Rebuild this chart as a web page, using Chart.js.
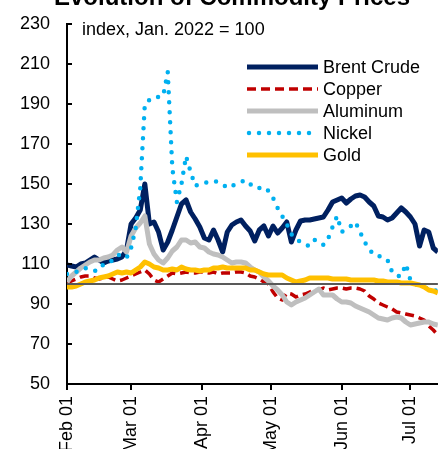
<!DOCTYPE html>
<html>
<head>
<meta charset="utf-8">
<script src="https://cdn.jsdelivr.net/npm/chart.js@4.4.0/dist/chart.umd.min.js"></script>
<style>
  html, body { margin: 0; padding: 0; background: #fff; overflow: hidden; }
  #wrap { width: 438px; height: 449px; }
</style>
</head>
<body>
<div id="wrap"><canvas id="canvas" width="438" height="449"></canvas></div>
<script>
/* Calendar days after Feb 01, 2022 */
const days = [
  0, 2, 4, 6, 8, 10, 12, 14, 16, 18,
  20, 22, 24, 26, 28, 30, 32, 34, 36, 38,
  40, 42, 44, 46, 48, 50, 52, 54, 56, 58,
  60, 62, 64, 66, 68, 70, 72, 74, 76, 78,
  80, 82, 84, 86, 88, 90, 92, 94, 96, 98,
  100, 102, 104, 106, 108, 110, 112, 114, 116, 118,
  120, 122, 124, 126, 128, 130, 132, 134, 136, 138,
  140, 142, 144, 146, 148, 150, 152, 154, 156, 158,
  160, 162
];

/* Month ticks on the x axis */
const monthDays = [0, 28, 59, 89, 120, 150];
const monthLabels = ["Feb 01", "Mar 01", "Apr 01", "May 01", "Jun 01", "Jul 01"];
const yTicks = [50, 70, 90, 110, 130, 150, 170, 190, 210, 230];
const baseLevel = 100;

/* Series (index, Jan. 2022 = 100) */
const brentCrude = [
  109.5, 109, 108.5, 110, 110.5, 112, 113.5, 112, 110.5, 111.5,
  112, 112.5, 113.5, 117, 130, 133, 137, 150, 130, 131,
  126, 117, 121, 127, 133.5, 140, 142, 136, 132.5, 128.5,
  123, 122, 127, 122, 116, 126, 129.5, 131, 132, 129,
  126.5, 121.5, 127, 129, 124, 129, 125.5, 128, 131, 121,
  127, 131.5, 132, 132, 132.5, 133, 133.5, 137, 141, 142,
  143, 140.5, 142.5, 144, 144.5, 143.5, 141, 139, 134, 133.5,
  132, 133, 135.5, 138, 136, 133.5, 130, 119, 127, 126,
  118, 116
];
const copper = [
  100.5, 101.5, 102.5, 103.5, 104, 104, 103, 102.5, 103, 103.5,
  102.5, 101.5, 102, 103, 104, 105, 106, 107, 105, 102,
  101, 102.5, 104, 105.5, 105, 105.5, 106, 105.5, 105.5, 106,
  106, 105.5, 106, 105, 105.5, 105.5, 105.5, 106, 106, 105.5,
  104, 103.5, 102.5, 101, 100, 96, 93, 92, 95.5, 95,
  93.5, 94.5, 95, 96, 97, 97, 98, 97, 97.5, 98,
  98, 97.5, 98, 98, 97.5, 96.5, 94, 92.5, 90.5, 89.5,
  88.5, 87.5, 86, 85.5, 85, 84.5, 84, 83, 82, 79,
  77, 74.5
];
const aluminum = [
  101, 104, 106, 108, 109.5, 111, 112, 112, 113, 113.5,
  114.5, 117, 118.5, 116, 124, 128, 130.5, 134, 120, 115,
  112, 110.5, 113, 116.5, 118.5, 122, 122, 120.5, 121, 118.5,
  118, 116, 115, 114.5, 113.5, 112, 110.5, 111, 111, 110.5,
  108.5, 107, 106, 103.5, 101.5, 99, 97, 94.5, 91, 89.5,
  91, 92, 93, 94.5, 96, 97.5, 94.5, 94.5, 94.5, 92.5,
  91, 91, 90.5, 89, 88, 87, 86, 84.5, 83, 82.5,
  82, 83, 83.5, 83, 81, 79.5, 80, 80.5, 81, 81,
  80, 79.5
];
const nickel = [
  105, 106, 106, 107, 108, 107, 106.5, 107, 110, 110.5,
  112, 114.5, 114.5, 113, 118, 128, 148, 190, 192, 193.5,
  193.5, 194, 206, 158, 141, 150, 164, 156, 149, 150,
  150.5, 151, 151.5, 151, 150, 148, 149, 150, 151, 152,
  150, 148, 148, 148.5, 146.5, 143, 138, 134, 130, 125,
  122.5, 121, 119.5, 119, 122, 121.5, 119.5, 122.5, 128.5, 134,
  126, 127.5, 129, 131, 126, 121, 117.5, 114.5, 114, 113.5,
  112, 106, 104, 104, 110, 102, 100, 99, 98, 98,
  97.5, 96
];
const gold = [
  98.5, 98.5, 99, 100, 101, 101.5, 102, 103, 103.5, 104,
  105, 106, 105.5, 106, 105.5, 107, 108.5, 111, 110, 108.5,
  108, 107, 107, 107.5, 107, 108.5, 107.5, 107, 107, 106.5,
  107, 107, 108, 108, 108.5, 108, 108, 108, 108, 108,
  107, 107, 106, 105, 104.5, 104.5, 104.5, 104.5, 103, 102,
  101, 101.5, 102, 103, 103, 103, 103, 103, 102.5, 102.5,
  102.5, 102.5, 102, 102, 102, 102, 102, 102, 101.5, 101.5,
  101, 101, 101, 100.5, 100.5, 100.5, 100, 99.5, 98.5, 97,
  96.5, 95.5
];

const fontFamily = "'Liberation Sans', Arial, sans-serif";

const series = [
  { label: "Brent Crude", data: brentCrude, color: "#002060", width: 5, dash: [], cap: "butt" },
  { label: "Copper", data: copper, color: "#C00000", width: 3.5, dash: [9, 5], cap: "butt" },
  { label: "Aluminum", data: aluminum, color: "#BFBFBF", width: 5, dash: [], cap: "butt" },
  { label: "Nickel", data: nickel, color: "#00B0F0", width: 4.5, dash: [0, 10], cap: "round" },
  { label: "Gold", data: gold, color: "#FFC000", width: 5, dash: [], cap: "butt" },
];

const datasets = series.map((s, i) => ({
  label: s.label,
  data: days.map((d, j) => ({ x: d, y: s.data[j] })),
  borderColor: s.color,
  borderWidth: s.width,
  borderDash: s.dash,
  borderCapStyle: s.cap,
  borderJoinStyle: "round",
  pointRadius: 0,
  tension: 0,
  fill: false,
  order: series.length - i, // later series on top
}));

/* Title, note, legend, base line and inward y ticks */
const decor = {
  id: "decor",
  afterDatasetsDraw(chart) {
    const { ctx, chartArea, scales } = chart;
    const y = scales.y;
    ctx.save();
    // base line at 100
    const yb = y.getPixelForValue(baseLevel);
    ctx.strokeStyle = "#595959";
    ctx.lineWidth = 2;
    ctx.beginPath();
    ctx.moveTo(chartArea.left, yb);
    ctx.lineTo(chartArea.right, yb);
    ctx.stroke();
    // y ticks point inside
    ctx.strokeStyle = "#000";
    ctx.beginPath();
    yTicks.forEach((v) => {
      const p = y.getPixelForValue(v);
      ctx.moveTo(chartArea.left, p);
      ctx.lineTo(chartArea.left + 5, p);
    });
    ctx.stroke();
    ctx.restore();
  },
  afterDraw(chart) {
    const { ctx } = chart;
    ctx.save();
    ctx.fillStyle = "#000";
    // title (cut at top like the original)
    ctx.font = "bold 24px " + fontFamily;
    ctx.textAlign = "center";
    ctx.textBaseline = "alphabetic";
    ctx.fillText("Evolution of Commodity Prices", 232, 5);
    // note
    ctx.font = "18px " + fontFamily;
    ctx.textAlign = "left";
    ctx.fillText("index, Jan. 2022 = 100", 82, 35);
    // legend
    ctx.textBaseline = "middle";
    series.forEach((s, i) => {
      const ly = 67 + i * 22;
      ctx.beginPath();
      ctx.strokeStyle = s.color;
      ctx.lineWidth = s.width;
      ctx.setLineDash(s.dash);
      ctx.lineCap = s.cap === "round" ? "round" : "butt";
      ctx.moveTo(s.cap === "round" ? 249 : 247, ly);
      ctx.lineTo(318, ly);
      ctx.stroke();
      ctx.setLineDash([]);
      ctx.fillText(s.label, 323, ly + 1);
    });
    ctx.restore();
  },
};

const ctx = document.getElementById("canvas").getContext("2d");
window.myChart = new Chart(ctx, {
  type: "line",
  data: { datasets: datasets },
  plugins: [decor],
  options: {
    responsive: false,
    devicePixelRatio: 1,
    animation: false,
    layout: { padding: { top: 24, right: 0, bottom: 0, left: 0 } },
    plugins: {
      legend: { display: false },
      title: { display: false },
      tooltip: { enabled: false },
    },
    scales: {
      x: {
        type: "linear",
        min: 0,
        max: 162,
        afterBuildTicks: (s) => {
          s.ticks = monthDays.map((v) => ({ value: v }));
        },
        afterFit: (s) => {
          s.height = 65;
        },
        ticks: {
          callback: (v, i) => monthLabels[i],
          minRotation: 90,
          maxRotation: 90,
          padding: 6,
          color: "#000",
          font: { size: 18, family: fontFamily },
        },
        grid: {
          display: true,
          drawOnChartArea: false,
          drawTicks: true,
          tickLength: 6,
          color: "#000",
          lineWidth: 2,
        },
        border: { display: true, color: "#000", width: 2 },
      },
      y: {
        min: 50,
        max: 230,
        afterBuildTicks: (s) => {
          s.ticks = yTicks.map((v) => ({ value: v }));
        },
        afterFit: (s) => {
          s.width = 67;
        },
        ticks: {
          padding: 9,
          color: "#000",
          font: { size: 18, family: fontFamily },
        },
        grid: { display: false },
        border: { display: true, color: "#000", width: 2 },
      },
    },
  },
});
</script>
</body>
</html>
